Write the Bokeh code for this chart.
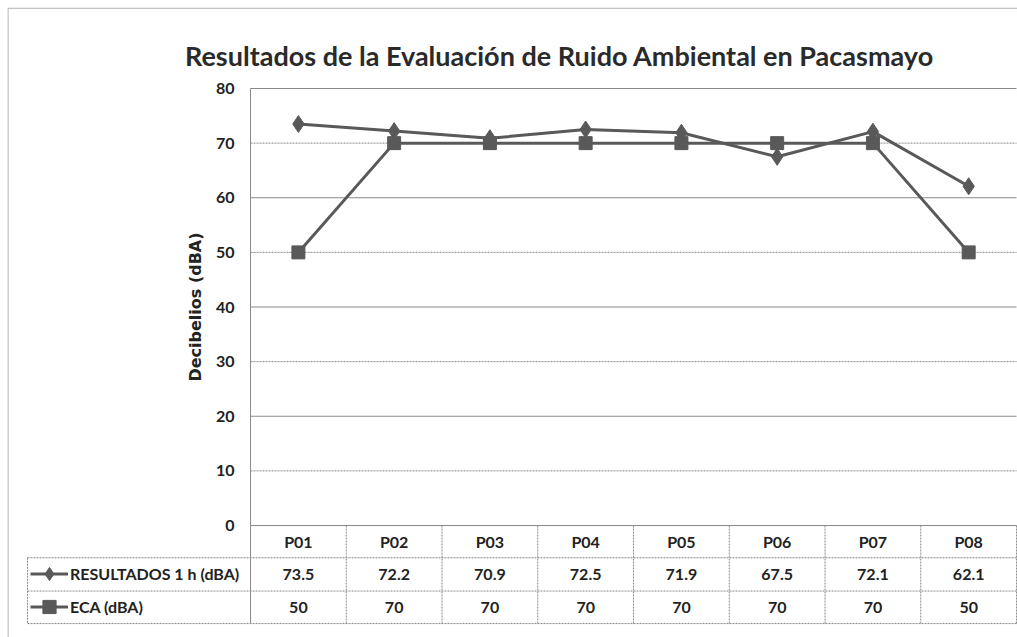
from bokeh.plotting import figure
from bokeh.models import Range1d, LinearAxis, FixedTicker, Legend, LegendItem, ColumnDataSource
from bokeh.core.properties import value
from bokeh.embed import file_html
from bokeh.resources import INLINE

# ---------------- data ----------------
categories = ["P01", "P02", "P03", "P04", "P05", "P06", "P07", "P08"]
resultados = [73.5, 72.2, 70.9, 72.5, 71.9, 67.5, 72.1, 62.1]
eca = [50, 70, 70, 70, 70, 70, 70, 50]
y_ticks = [0, 10, 20, 30, 40, 50, 60, 70, 80]
series_labels = ["RESULTADOS 1 h (dBA)", "ECA (dBA)"]
title_text = "Resultados de la Evaluación de Ruido Ambiental en Pacasmayo"
y_label = "Decibelios (dBA)"

# ---------------- style / layout ----------------
FONT = "Lato"
TXT = "#222222"
LINE_C = "#595959"
GRID_C = "#8a8a8a"
BORDER_C = "#a0a0a0"

x = [i + 0.5 for i in range(len(categories))]
n = len(categories)
X0, X1 = -2.538, 8.01          # frame x extent (x units: one category = 1)
Y0, Y1 = -20.5, 94.83          # frame y extent
LEFT = -2.329                  # left edge of table legend column
ROWS = [0, -5.9, -12.0, -17.95]  # table row boundaries
row_mid = [(ROWS[i] + ROWS[i + 1]) / 2 for i in range(3)]

p = figure(width=1017, height=637,
           x_range=Range1d(X0, X1), y_range=Range1d(Y0, Y1),
           output_backend="svg", toolbar_location=None,
           x_axis_location=None, y_axis_location=None,
           min_border_left=7, min_border_right=0,
           min_border_top=7, min_border_bottom=0)
p.grid.visible = False
p.outline_line_color = None
p.background_fill_color = "white"
p.border_fill_color = "white"

# outer chart border (left and top)
p.segment(x0=[X0 + 0.005, X0], x1=[X0 + 0.005, X1], y0=[Y0, Y1 - 0.12], y1=[Y1 - 0.12, Y1 - 0.12],
          line_color=BORDER_C, line_width=1)

# y axis at the left edge of the plot area
yaxis = LinearAxis(fixed_location=0, ticker=FixedTicker(ticks=y_ticks), bounds=(0, 80),
                   axis_label=y_label,
                   axis_line_color=GRID_C, axis_line_width=1,
                   major_tick_line_color=None, minor_tick_line_color=None,
                   major_tick_in=0, major_tick_out=0,
                   major_label_text_font=FONT, major_label_text_font_style="bold",
                   major_label_text_font_size="16px", major_label_text_color=TXT,
                   major_label_standoff=16,
                   axis_label_text_font="DejaVu Sans", axis_label_text_font_style="bold",
                   axis_label_text_font_size="16px", axis_label_text_color=TXT,
                   axis_label_standoff=8)
p.add_layout(yaxis, "left")

# horizontal grid lines inside the plot area
solid_ticks = [t for t in y_ticks if t % 20 == 0 and t > 0]
dotted_ticks = [t for t in y_ticks if t % 20 != 0]
p.segment(x0=[0] * len(solid_ticks), x1=[n] * len(solid_ticks), y0=solid_ticks, y1=solid_ticks,
          line_color=GRID_C, line_width=1)
p.segment(x0=[0] * len(dotted_ticks), x1=[n] * len(dotted_ticks), y0=dotted_ticks, y1=dotted_ticks,
          line_color=GRID_C, line_width=1, line_dash="2 1")

# data table borders
p.segment(x0=[0], x1=[n], y0=[ROWS[0]], y1=[ROWS[0]], line_color=GRID_C, line_width=1)
p.segment(x0=[LEFT] * 3, x1=[n] * 3, y0=ROWS[1:], y1=ROWS[1:], line_color=GRID_C, line_width=1, line_dash="2 1")
p.segment(x0=[LEFT], x1=[LEFT], y0=[ROWS[1]], y1=[ROWS[3]], line_color=GRID_C, line_width=1, line_dash="2 1")
vx = list(range(1, n + 1))
p.segment(x0=vx, x1=vx, y0=[ROWS[0]] * n, y1=[ROWS[3]] * n, line_color=GRID_C, line_width=1, line_dash="2 1")
p.segment(x0=[0], x1=[0], y0=[ROWS[0]], y1=[ROWS[3]], line_color=GRID_C, line_width=1)

# series
r1 = p.line(x, resultados, line_color=LINE_C, line_width=3)
m1 = p.scatter(x, resultados, marker="diamond", size=17, color=LINE_C)
r2 = p.line(x, eca, line_color=LINE_C, line_width=3)
m2 = p.scatter(x, eca, marker="square", size=13, color=LINE_C)

# data table text
src = ColumnDataSource(dict(x=x, cat=categories,
                            r=[f"{v:.1f}" for v in resultados],
                            e=[str(v) for v in eca]))
common = dict(text_font=value(FONT), text_font_style="bold", text_font_size="16px",
              text_color=TXT, text_align="center", text_baseline="middle")
p.text(x="x", y=row_mid[0], text="cat", source=src, **common)
p.text(x="x", y=row_mid[1], text="r", source=src, **common)
p.text(x="x", y=row_mid[2], text="e", source=src, **common)

legend = Legend(items=[LegendItem(label=series_labels[0], renderers=[r1, m1]),
                       LegendItem(label=series_labels[1], renderers=[r2, m2])],
                location=(23, 14), orientation="vertical",
                glyph_width=38, glyph_height=33, label_height=33,
                label_standoff=2, spacing=0, padding=0, margin=0,
                border_line_color=None, background_fill_alpha=0,
                label_text_font=FONT, label_text_font_style="bold",
                label_text_font_size="16px", label_text_color=TXT)
p.add_layout(legend)

# chart title
p.text(x=[3.227], y=[86.04], text=[title_text], text_align="center",
       text_baseline="alphabetic", text_font=value(FONT), text_font_style="bold",
       text_font_size="27px", text_color="#2a2a2a")

open("out.html", "w").write(file_html(p, INLINE))
